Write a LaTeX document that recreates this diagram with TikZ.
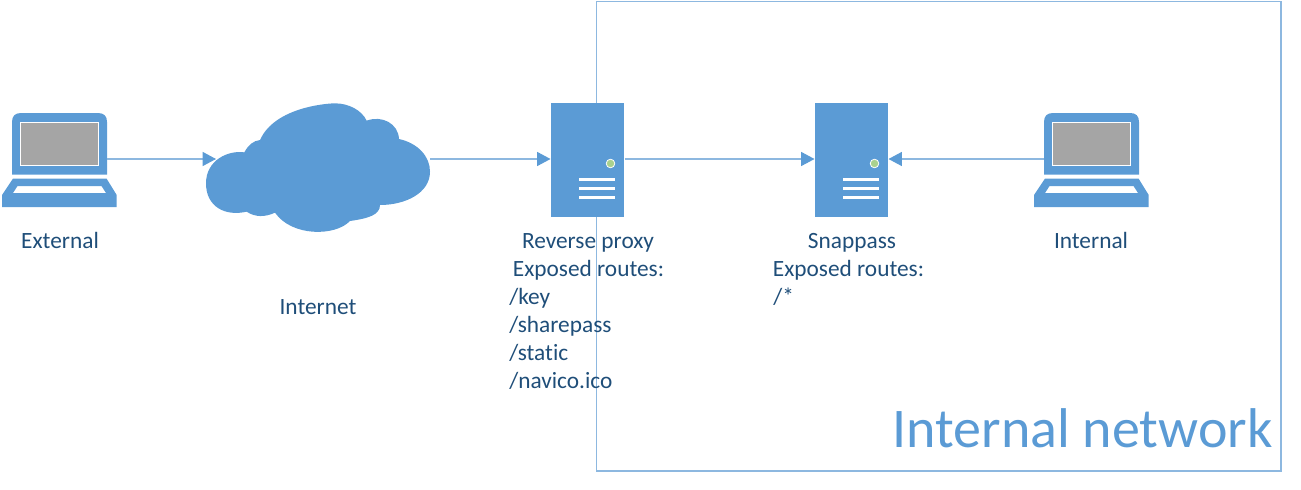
\documentclass[tikz,border=0pt]{standalone}
\usepackage{fontspec}
\setmainfont[Ligatures=NoCommon]{Carlito}
\usetikzlibrary{arrows.meta}
\definecolor{azure}{HTML}{5B9BD5}
\definecolor{paleline}{HTML}{8DB8E0}
\definecolor{inktext}{HTML}{1F4E79}
\definecolor{screengrey}{HTML}{A5A5A5}
\definecolor{ledgreen}{HTML}{A9D18E}
\tikzset{
  x=0.75pt,y=-0.75pt,
  anchorbox/.style={inner sep=0pt,outer sep=0pt,draw=none},
  laptopbox/.style={anchorbox,minimum width=71.25pt,minimum height=69pt},
  serverbox/.style={anchorbox,minimum width=55.5pt,minimum height=84pt},
  cloudbox/.style={anchorbox,minimum width=160.5pt,minimum height=84pt},
  label/.style={inner sep=0pt,text=inktext,text height=14.5pt,text depth=4pt,font=\fontsize{17.5pt}{20pt}\selectfont},
  routelabel/.style={label,anchor=west},
  link/.style={draw=paleline,line width=0.8pt,-{Triangle[length=10pt,width=10.5pt,color=azure]}},
  zone/.style={draw=paleline,line width=0.8pt},
  azurefill/.style={fill=azure,draw=none},
  whiteedge/.style={draw=white,line width=0.6pt}
}
\newcommand{\laptopshape}[1]{%
  \begin{scope}[shift={(#1,0)}]
    \path[azurefill] (12,174.5) -- (12,122) .. controls (12,116) and (15,113) .. (21,113)
      -- (98,113) .. controls (104,113) and (107,116) .. (107,122) -- (107,174.5) -- cycle;
    \path[fill=screengrey,whiteedge] (20.5,122) rectangle (98.5,165);
    \path[azurefill,even odd rule] (13,178.5) -- (106.5,178.5) -- (116.7,195) -- (116.7,207) -- (2,207) -- (2,195) -- cycle
      (17.5,186) -- (101.5,186) -- (106,193) -- (13,193) -- cycle;
  \end{scope}}
\newcommand{\servershape}[1]{%
  \begin{scope}[shift={(#1,0)}]
    \path[azurefill] (551,103) rectangle (624,217);
    \path[fill=ledgreen,whiteedge] (610.5,163.5) circle[radius=4.3];
    \path[fill=white] (579,178) rectangle (615,181);
    \path[fill=white] (579,187) rectangle (615,190);
    \path[fill=white] (579,196) rectangle (615,199);
  \end{scope}}
\begin{document}
\begin{tikzpicture}
\useasboundingbox (0,0) rectangle (1301,489);
% internal network frame
\draw[zone] (596.5,1.5) rectangle (1281,471);
% shapes
\laptopshape{0}
\laptopshape{1032}
\servershape{0}
\servershape{264}
\begin{scope}[shift={(195,90)},x=0.25pt,y=-0.25pt]
  \path[azurefill] (195,150) .. controls (240,50) and (400,40) .. (420,40)
    .. controls (460,40) and (500,60) .. (515,92)
    .. controls (560,75) and (610,100) .. (612,147)
    .. controls (670,160) and (705,200) .. (705,245)
    .. controls (705,310) and (630,345) .. (555,345)
    .. controls (555,375) and (520,385) .. (465,393)
    .. controls (420,440) and (290,440) .. (240,368)
    .. controls (210,382) and (180,382) .. (155,365)
    .. controls (90,380) and (33,350) .. (33,280)
    .. controls (33,210) and (100,180) .. (148,187)
    .. controls (160,165) and (175,152) .. (195,150) -- cycle;
\end{scope}
% anchor nodes
\node[laptopbox] (external) at (59.5,159) {};
\node[laptopbox] (internal) at (1091.5,159) {};
\node[cloudbox] (cloud) at (323,159) {};
\node[serverbox] (proxy) at (587.5,159) {};
\node[serverbox] (snappass) at (851.5,159) {};
% connectors
\draw[link] (external) -- (cloud);
\draw[link] (cloud) -- (proxy);
\draw[link] (proxy) -- (snappass);
\draw[link] (internal) -- (snappass);
% labels
\node[label] (lext) at (60,241) {External};
\node[label] (lnet) at (318,307) {Internet};
\node[label] (lproxy) at (588,241) {Reverse proxy};
\node[label] (lproxyr) at (588.5,269) {Exposed routes:};
\node[routelabel] (rkey) at (509,297) {/key};
\node[routelabel] (rshare) at (509,325) {/sharepass};
\node[routelabel] (rstatic) at (509,353) {/static};
\node[routelabel] (rnav) at (509,381) {/navico.ico};
\node[label] (lsnap) at (852,241) {Snappass};
\node[label] (lsnapr) at (848.5,269) {Exposed routes:};
\node[routelabel] (rall) at (773,297) {/*};
\node[label] (lint) at (1091,241) {Internal};
\node[inner sep=0pt,text=azure,font=\fontsize{42pt}{46pt}\selectfont] (lzone) at (1082.5,428) {Internal network};
\end{tikzpicture}
\end{document}
